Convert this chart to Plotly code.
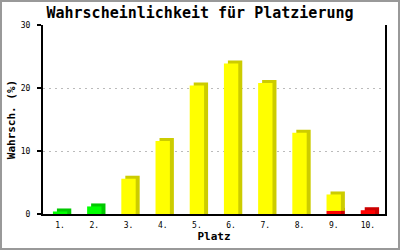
import numpy as np
import plotly.graph_objects as go

# ---- data ----
categories = ["1.", "2.", "3.", "4.", "5.", "6.", "7.", "8.", "9.", "10."]
red_vals = [0, 0, 0, 0, 0, 0, 0, 0, 0.5, 0.6]
green_vals = [0.4, 1.2, 0, 0, 0, 0, 0, 0, 0, 0]
yellow_vals = [0, 0, 5.6, 11.6, 20.4, 23.9, 20.8, 12.9, 2.6, 0]
y_ticks = [0, 10, 20, 30]

# ---- style ----
W, H = 400, 250
ML, MR, MT, MB = 43, 15, 25, 36
PW, PH = W - ML - MR, H - MT - MB
YMAX = 30
BAR_W = 0.42          # front face width (category units)
BAR_OFF = -0.21
DX = 4 / (PW / len(categories))   # depth in category units (~4px)
DY = 3 / (PH / YMAX)              # depth in y units (~3px)
FONT = "DejaVu Sans Mono"

series = [
    (red_vals, "#FF0000", "#CC0000"),
    (green_vals, "#00FF00", "#00C800"),
    (yellow_vals, "#FFFF00", "#CCCC00"),
]

fig = go.Figure()
base = np.zeros(len(categories))
fronts = []
for vals, front_col, side_col in series:
    v = np.array(vals, dtype=float)
    mask = v > 0
    back_h = np.where(mask, v + DY, 0)
    fig.add_trace(go.Bar(
        x=categories, y=back_h, base=base.copy(),
        offset=BAR_OFF + DX, width=BAR_W,
        marker=dict(color=side_col, line=dict(width=0)),
        hoverinfo="skip", showlegend=False))
    fronts.append((categories, v.copy(), base.copy(), front_col))
    base = base + v

for cats, v, b, col in fronts:
    fig.add_trace(go.Bar(
        x=cats, y=v, base=b,
        offset=BAR_OFF, width=BAR_W,
        marker=dict(color=col, line=dict(width=0)),
        hoverinfo="skip", showlegend=False))

fig.update_layout(
    width=W, height=H,
    margin=dict(l=ML, r=MR, t=MT, b=MB, autoexpand=False),
    barmode="overlay",
    paper_bgcolor="white", plot_bgcolor="white",
    font=dict(family=FONT, color="black", size=8),
    title=dict(text="<b>Wahrscheinlichkeit für Platzierung</b>",
               font=dict(family=FONT, size=15, color="black"),
               x=0.5, xanchor="center", xref="container",
               y=1 - 12.5 / H, yanchor="middle", yref="container"),
    xaxis=dict(
        type="category", categoryorder="array", categoryarray=categories,
        range=[-0.5, len(categories) - 0.5],
        showline=True, linecolor="black", linewidth=2,
        ticks="", showgrid=False, zeroline=False,
        ticklabelstandoff=2,
        tickfont=dict(family=FONT, size=8, color="black"),
        title=dict(text="<b>Platz</b>", font=dict(family=FONT, size=11, color="black"),
                   standoff=4),
    ),
    yaxis=dict(
        range=[0, YMAX], tickvals=y_ticks,
        showline=True, linecolor="black", linewidth=2, mirror=True,
        ticks="outside", ticklen=4, tickwidth=2, tickcolor="black",
        ticklabelstandoff=5,
        showgrid=True, gridcolor="#BBBBBB", gridwidth=1, griddash="2px,4px",
        zeroline=False,
        tickfont=dict(family=FONT, size=8, color="black"),
        title=dict(text="<b>Wahrsch. (%)</b>", font=dict(family=FONT, size=11, color="black"),
                   standoff=3),
    ),
)

# outer grey frame
fig.add_shape(type="rect", xref="paper", yref="paper",
              x0=(1 - ML) / PW, x1=1 + (MR - 1) / PW,
              y0=-(MB - 1) / PH, y1=1 + (MT - 1) / PH,
              line=dict(color="#999999", width=2), fillcolor="rgba(0,0,0,0)",
              layer="above")

fig.write_html("out.html")
